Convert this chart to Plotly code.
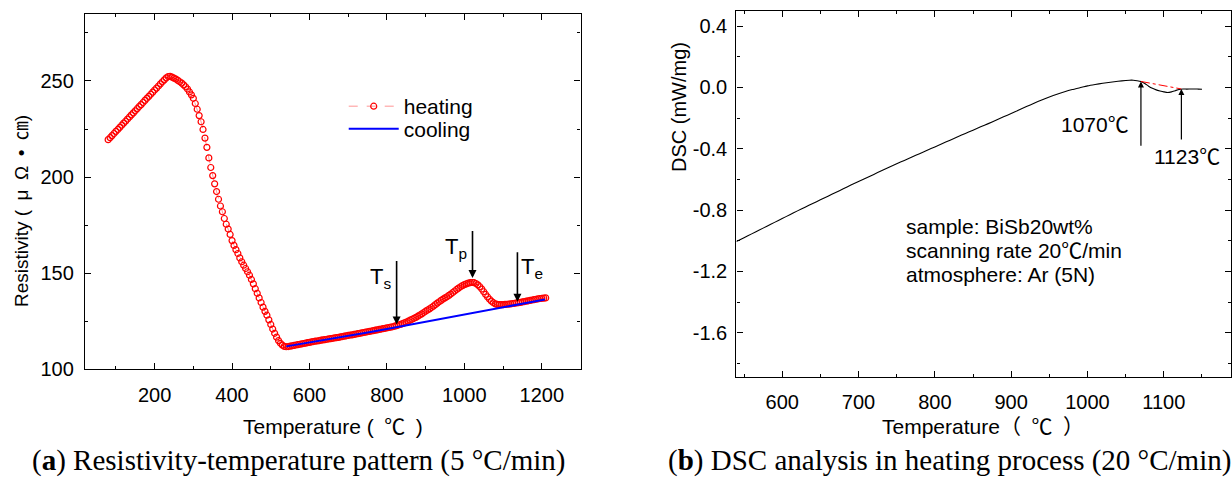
import plotly.graph_objects as go

# ---------------- data: panel (a) resistivity ----------------
heating_temp = list(range(80, 1211, 5))
heating_res = [
    219.5, 220.5, 221.6, 222.7,
    223.8, 224.8, 225.9, 227.0, 228.1, 229.1, 230.2, 231.3, 232.4, 233.4, 234.5, 235.6, 236.7, 237.7, 238.8, 239.9, 241.0, 242.0, 243.1, 244.2,
    245.3, 246.3, 247.4, 248.5, 249.6, 250.6, 251.6, 252.3, 252.4, 252.0, 251.5, 251.0, 250.3, 249.6, 248.9, 248.0, 247.0, 245.8, 244.3, 242.8,
    241.0, 238.3, 235.3, 232.0, 228.8, 224.8, 220.3, 215.5, 210.0, 205.0, 200.8, 196.5, 192.5, 188.5, 185.0, 182.0, 178.5, 175.5, 173.0, 170.2,
    167.0, 164.5, 162.3, 160.3, 158.0, 156.0, 154.2, 152.5, 150.8, 149.0, 146.8, 144.5, 142.0, 139.6, 137.2, 134.8, 132.4, 130.2, 128.2, 125.8,
    123.4, 121.0, 118.8, 116.8, 115.0, 113.6, 112.6, 112.0, 111.8, 111.9, 112.1, 112.3, 112.5, 112.7, 112.9, 113.1, 113.3, 113.5, 113.7, 113.9,
    114.1, 114.3, 114.5, 114.7, 114.8, 115.0, 115.2, 115.4, 115.5, 115.7, 115.9, 116.0, 116.2, 116.4, 116.5, 116.7, 116.9, 117.1, 117.3, 117.5,
    117.7, 117.9, 118.0, 118.2, 118.4, 118.6, 118.8, 119.0, 119.2, 119.4, 119.6, 119.8, 120.0, 120.2, 120.4, 120.6, 120.8, 121.0, 121.2, 121.4,
    121.6, 121.8, 122.0, 122.2, 122.5, 122.8, 123.1, 123.4, 123.8, 124.2, 124.6, 125.1, 125.6, 126.1, 126.6, 127.1, 127.7, 128.3, 128.9, 129.6,
    130.3, 130.9, 131.5, 132.2, 132.9, 133.7, 134.5, 135.2, 135.9, 136.6, 137.2, 137.8, 138.5, 139.2, 140.0, 140.8, 141.6, 142.3, 143.0, 143.6,
    144.1, 144.5, 144.9, 145.1, 145.2, 145.1, 144.7, 144.0, 143.0, 141.8, 140.4, 139.0, 137.7, 136.5, 135.5, 134.7, 134.1, 133.8, 133.7, 133.7,
    133.7, 133.8, 133.9, 134.0, 134.1, 134.3, 134.4, 134.6, 134.7, 134.9, 135.1, 135.3, 135.5, 135.7, 135.9, 136.1, 136.3, 136.5, 136.7, 136.9,
    137.0, 137.1, 137.2,
]
cooling_temp = [540, 600, 650, 700, 750, 800, 850, 900, 950, 1000, 1050, 1100, 1150, 1200, 1208]
cooling_res = [112.0, 114.0, 115.6, 117.4, 119.2, 121.0, 122.9, 124.8, 126.7, 128.6, 130.5, 132.4, 134.3, 136.1, 136.4]

# arrows: label, temperature, tail value, tip value, label position
arrow_labels = ["T<sub>s</sub>", "T<sub>p</sub>", "T<sub>e</sub>"]
arrow_temp = [825, 1021, 1137]
arrow_tail = [157.2, 172.8, 161.7]
arrow_tip = [123.4, 147.5, 135.2]
arrow_label_temp = [783, 978, 1174]
arrow_label_val = [147.5, 163.0, 153.0]

# ---------------- data: panel (b) DSC ----------------
dsc_temp = list(range(540, 1051, 10)) + list(range(1055, 1151, 5))
dsc_val = [
    -1.005, -0.980, -0.955, -0.930, -0.905, -0.880, -0.855, -0.830, -0.805, -0.781,
    -0.757, -0.733, -0.709, -0.685, -0.661, -0.637, -0.613, -0.590, -0.567, -0.544,
    -0.521, -0.498, -0.476, -0.454, -0.432, -0.410, -0.388, -0.366, -0.344, -0.322,
    -0.300, -0.279, -0.257, -0.236, -0.214, -0.192, -0.170, -0.148, -0.125, -0.103,
    -0.082, -0.062, -0.044, -0.028, -0.014, -0.002, 0.010, 0.019, 0.027, 0.034,
    0.040, 0.045,
    0.047, 0.047, 0.044, 0.039, 0.026, 0.008, -0.006, -0.016, -0.023, -0.029,
    -0.033, -0.029, -0.021, -0.013, -0.010, -0.011, -0.010, -0.010, -0.011, -0.012,
]
baseline_temp = [1070, 1123]
baseline_val = [0.039, -0.010]
dsc_arrow_temp = [1070, 1123]
dsc_arrow_tail = [-0.39, -0.35]
dsc_arrow_tip = [0.039, -0.010]
dsc_arrow_labels = ["1070℃", "1123℃"]
dsc_label_temp = [1057, 1084]
dsc_label_val = [-0.240, -0.452]
dsc_ticks = [0.4, 0.0, -0.4, -0.8, -1.2, -1.6]
dsc_tick_text = ["0.4", "0.0", "-0.4", "-0.8", "-1.2", "-1.6"]
info_lines = ["sample: BiSb20wt%", "scanning rate 20℃/min", "atmosphere: Ar (5N)"]
info_vals = [-0.905, -1.064, -1.222]

SANS = "Arial, Liberation Sans, Noto Sans CJK SC, sans-serif"
SERIF = "Times New Roman, Liberation Serif, serif"
W, H = 1232, 486

fig = go.Figure()
fig.add_trace(go.Scatter(
    x=heating_temp, y=heating_res, name="heating", mode="lines+markers",
    line=dict(color="rgba(255,60,60,0.55)", width=1, dash="dash"),
    marker=dict(symbol="circle-open", size=6, color="#ff0000", line=dict(width=1.2, color="#ff0000")),
    xaxis="x", yaxis="y", legend="legend"))
fig.add_trace(go.Scatter(
    x=cooling_temp, y=cooling_res, name="cooling", mode="lines",
    line=dict(color="#0000ff", width=2), xaxis="x", yaxis="y", legend="legend2"))
fig.add_trace(go.Scatter(
    x=dsc_temp, y=dsc_val, mode="lines", showlegend=False,
    line=dict(color="black", width=1.1, shape="spline", smoothing=0.6), xaxis="x2", yaxis="y2"))
fig.add_trace(go.Scatter(
    x=baseline_temp, y=baseline_val, mode="lines", showlegend=False,
    line=dict(color="red", width=1, dash="dashdot"), xaxis="x2", yaxis="y2"))


def axis_common(standoff):
    return dict(showline=True, linecolor="black", linewidth=1.3, mirror="ticks",
                ticks="inside", ticklen=6, tickwidth=1.3, tickcolor="black",
                showgrid=False, zeroline=False, ticklabelstandoff=standoff,
                tickfont=dict(family=SANS, size=20, color="black"))


def minor(dt):
    return dict(ticks="inside", ticklen=3, tickwidth=1.2, tickcolor="black", dtick=dt, tick0=0)


legend_font = dict(family=SANS, size=21, color="black")
fig.update_layout(
    width=W, height=H, margin=dict(l=0, r=0, t=0, b=0),
    paper_bgcolor="white", plot_bgcolor="white",
    xaxis=dict(domain=[85 / W, 581 / W], range=[20, 1300], anchor="y",
               tickvals=[200, 400, 600, 800, 1000, 1200], minor=minor(100), **axis_common(7)),
    yaxis=dict(domain=[(H - 378) / H, (H - 14) / H], range=[100, 285], anchor="x",
               tickvals=[100, 150, 200, 250], minor=minor(25), **axis_common(6)),
    xaxis2=dict(domain=[737 / W, 1.0], range=[540, 1188], anchor="y2",
                tickvals=[600, 700, 800, 900, 1000, 1100], minor=minor(50), **axis_common(7)),
    yaxis2=dict(domain=[(H - 386) / H, (H - 11) / H], range=[-1.89, 0.5], anchor="x2",
                tickvals=dsc_ticks, ticktext=dsc_tick_text, minor=minor(0.2), **axis_common(4)),
    legend=dict(x=344 / W, y=(H - 109) / H, xanchor="left", yanchor="middle",
                bgcolor="rgba(0,0,0,0)", font=legend_font, itemwidth=50),
    legend2=dict(x=344 / W, y=(H - 132) / H, xanchor="left", yanchor="middle",
                 bgcolor="rgba(0,0,0,0)", font=legend_font, itemwidth=50),
    showlegend=True,
)


def text_ann(text, x, y, size, angle=0, family=SANS, xanchor="center"):
    return dict(text=text, x=x / W, y=(H - y) / H, xref="paper", yref="paper",
                xanchor=xanchor, yanchor="middle", showarrow=False, textangle=angle,
                font=dict(family=family, size=size, color="black"))


ann = []
# axis titles
ann.append(text_ann("Temperature (\u2002℃\u2002)", 333, 436, 21))
ann.append(text_ann("Resistivity (\u2002μ\u2002Ω\u2002•\u2002㎝)", 21, 216, 19, angle=-90))
ann.append(text_ann("Temperature（\u2002℃\u2002）", 984, 436, 21))
ann.append(text_ann("DSC (mW/mg)", 679, 109, 20, angle=-90))
# captions
ann.append(text_ann("(<b>a</b>) Resistivity-temperature pattern (5 °C/min)", 299, 471, 29, family=SERIF))
ann.append(text_ann("(<b>b</b>) DSC analysis in heating process (20 °C/min)", 667, 471, 29,
                    family=SERIF, xanchor="left"))
# panel (a) arrows
for lab, t, tail, tip, lt, lv in zip(arrow_labels, arrow_temp, arrow_tail, arrow_tip, arrow_label_temp, arrow_label_val):
    ann.append(dict(x=t, y=tip, ax=t, ay=tail, xref="x", yref="y", axref="x", ayref="y",
                    showarrow=True, arrowhead=2, arrowsize=1, arrowwidth=1.6, arrowcolor="black", text=""))
    ann.append(dict(x=lt, y=lv, xref="x", yref="y", text=lab, showarrow=False,
                    font=dict(family=SANS, size=22, color="black")))
# panel (b) arrows
for lab, t, tail, tip in zip(dsc_arrow_labels, dsc_arrow_temp, dsc_arrow_tail, dsc_arrow_tip):
    ann.append(dict(x=t, y=tip, ax=t, ay=tail, xref="x2", yref="y2", axref="x2", ayref="y2",
                    showarrow=True, arrowhead=2, arrowsize=1, arrowwidth=1.2, arrowcolor="black", text=""))
ann.append(dict(x=dsc_label_temp[0], y=dsc_label_val[0], xref="x2", yref="y2", text=dsc_arrow_labels[0],
                xanchor="right", yanchor="middle", showarrow=False, font=dict(family=SANS, size=21, color="black")))
ann.append(dict(x=dsc_label_temp[1], y=dsc_label_val[1], xref="x2", yref="y2", text=dsc_arrow_labels[1],
                xanchor="left", yanchor="middle", showarrow=False, font=dict(family=SANS, size=21, color="black")))
for line, v in zip(info_lines, info_vals):
    ann.append(dict(x=760, y=v, xref="x2", yref="y2", text=line, xanchor="left", yanchor="middle",
                    showarrow=False, font=dict(family=SANS, size=21, color="black")))

fig.update_layout(annotations=ann)
fig.write_html("out.html")
